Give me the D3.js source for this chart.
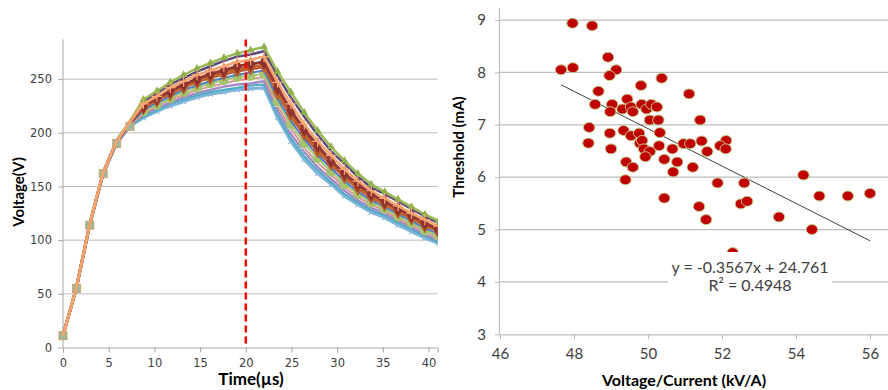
<!DOCTYPE html>
<html>
<head>
<meta charset="utf-8">
<script src="https://cdn.jsdelivr.net/npm/d3@7"></script>
<style>
  body { margin: 0; background: #fff; }
  svg { display: block; }
</style>
</head>
<body>
<svg id="chart" width="888" height="390"></svg>
<script>
// ---- left panel: voltage waveforms ----
const timeUs = [0, 1.47, 2.93, 4.4, 5.87, 7.33, 8.8, 10.27, 11.73, 13.2, 14.67, 16.13, 17.6, 19.07, 20.53,
  22, 23.47, 24.93, 26.4, 27.87, 29.33, 30.8, 32.27, 33.73, 35.2, 36.67, 38.13, 39.6, 41.07];

const vGreen = [11, 56, 115, 163, 193, 211, 231, 239, 247, 254, 260, 265, 270, 274, 277, 280, 257, 238, 219, 202, 187, 174, 162, 152, 145, 138, 131, 124, 118];
const vDarkPurple = [11, 56, 115, 163, 193, 210, 229, 237, 245, 251, 257, 262, 267, 271, 273, 276, 253, 233, 215, 198, 183, 171, 159, 149, 143, 136, 129, 122, 116];
const vLightOrange = [11, 56, 115, 163, 192, 210, 227, 234, 242, 248, 254, 258, 262, 266, 268, 271, 247, 227, 208, 192, 179, 166, 155, 146, 139, 132, 125, 119, 113];
const vDarkRed = [11, 56, 115, 163, 192, 209, 225, 232, 239, 245, 250, 255, 258, 262, 264, 266, 242, 221, 203, 188, 174, 162, 152, 143, 136, 129, 123, 116, 110];
const vBrown = [11, 56, 115, 163, 192, 209, 224, 231, 237, 243, 248, 252, 256, 259, 261, 263, 238, 218, 200, 184, 172, 160, 149, 141, 134, 127, 121, 114, 109];
const vRed = [11, 56, 115, 163, 192, 209, 223, 230, 236, 242, 247, 251, 254, 257, 259, 261, 236, 215, 197, 182, 170, 158, 148, 139, 133, 126, 120, 113, 108];
const vBlue = [11, 56, 115, 162, 191, 208, 221, 228, 234, 240, 244, 248, 251, 254, 256, 258, 232, 211, 194, 179, 167, 155, 145, 137, 131, 124, 118, 111, 106];
const vLightGreen = [11, 55, 114, 162, 191, 208, 220, 226, 232, 238, 242, 246, 249, 252, 253, 255, 229, 208, 190, 176, 164, 152, 143, 135, 129, 122, 116, 109, 104];
const vPink = [11, 55, 114, 162, 191, 207, 218, 225, 231, 235, 240, 243, 246, 249, 250, 252, 225, 204, 186, 172, 161, 149, 140, 133, 127, 120, 114, 108, 102];
const vPurple = [11, 55, 114, 162, 190, 207, 217, 223, 228, 233, 237, 240, 243, 245, 246, 248, 221, 199, 182, 168, 157, 146, 137, 130, 125, 118, 112, 105, 100];
const vAqua = [11, 55, 114, 162, 190, 206, 215, 221, 227, 231, 235, 238, 240, 242, 244, 245, 217, 195, 178, 165, 154, 143, 135, 128, 123, 116, 110, 104, 98];
const vLightBlue = [11, 55, 114, 162, 190, 206, 214, 220, 225, 229, 233, 236, 238, 240, 241, 242, 214, 192, 175, 162, 152, 141, 133, 126, 121, 114, 108, 102, 97];

const leftXTicks = [0, 5, 10, 15, 20, 25, 30, 35, 40];
const leftYTicks = [0, 50, 100, 150, 200, 250];
const markerTime = 20;

// ---- right panel: threshold vs voltage/current ----
const ratioKvA = [47.96, 48.49, 47.65, 47.97, 48.92, 49.14, 48.96, 48.66, 48.57, 49.03, 48.98, 49.44, 49.31, 49.54, 49.59,
  49.81, 49.83, 49.96, 50.09, 50.24, 50.37, 51.11, 50.05, 50.28, 51.41, 48.41, 48.39, 48.97, 49.0, 49.34,
  49.54, 49.76, 49.78, 49.84, 49.89, 50.05, 49.93, 50.32, 50.30, 50.66, 50.96, 51.14, 51.45, 51.60, 52.11,
  51.95, 52.10, 49.41, 49.59, 49.39, 50.44, 50.79, 50.68, 51.21, 51.88, 52.60, 54.20, 50.44, 51.38, 52.51,
  52.68, 51.57, 53.54, 54.43, 54.63, 55.40, 56.0, 52.29];
const thresholdMa = [8.94, 8.89, 8.05, 8.09, 8.29, 8.05, 7.94, 7.64, 7.39, 7.39, 7.25, 7.49, 7.30, 7.34, 7.25,
  7.75, 7.39, 7.30, 7.39, 7.34, 7.89, 7.59, 7.09, 7.09, 7.09, 6.95, 6.65, 6.84, 6.54, 6.89,
  6.79, 6.84, 6.65, 6.70, 6.54, 6.49, 6.39, 6.85, 6.60, 6.54, 6.64, 6.64, 6.69, 6.49, 6.70,
  6.60, 6.54, 6.29, 6.19, 5.95, 6.34, 6.29, 6.10, 6.19, 5.89, 5.89, 6.04, 5.60, 5.44, 5.49,
  5.54, 5.19, 5.24, 5.00, 5.64, 5.64, 5.69, 4.56];
const trendSlope = -0.3567;
const trendIntercept = 24.761;
const trendR2 = 0.4948;
const rightXTicks = [46, 48, 50, 52, 54, 56];
const rightYTicks = [3, 4, 5, 6, 7, 8, 9];

const svg = d3.select('#chart');
const tickFont = '"DejaVu Sans", sans-serif';
const titleFont = 'Lato, "Open Sans", sans-serif';

// =============== left chart ===============
const x1 = d3.scaleLinear().domain([0, 41]).range([63, 437.7]);
const y1 = d3.scaleLinear().domain([0, 287]).range([347.5, 39.4]);

const left = svg.append('g');

left.selectAll('line.grid')
  .data(leftYTicks.filter((d) => d > 0))
  .enter()
  .append('line')
  .attr('x1', x1(0))
  .attr('x2', x1(41))
  .attr('y1', (d) => y1(d))
  .attr('y2', (d) => y1(d))
  .attr('stroke', '#bdbdbd')
  .attr('stroke-width', 1);

const xAxis1 = left.append('g')
  .attr('transform', `translate(0,${y1(0)})`)
  .call(d3.axisBottom(x1).tickValues(leftXTicks).tickSize(5).tickPadding(6));
const yAxis1 = left.append('g')
  .attr('transform', `translate(${x1(0)},0)`)
  .call(d3.axisLeft(y1).tickValues(leftYTicks).tickSize(5).tickPadding(6));
[xAxis1, yAxis1].forEach((a) => {
  a.select('.domain').attr('stroke', '#a6a6a6');
  a.selectAll('.tick line').attr('stroke', '#a6a6a6');
  a.selectAll('.tick text').attr('fill', '#404040').style('font-family', tickFont).style('font-size', '11.5px');
});
yAxis1.select('.domain').attr('d', `M-0,${y1(287)}V${y1(0)}`);

svg.append('defs').append('clipPath').attr('id', 'leftClip')
  .append('rect').attr('x', 0).attr('y', 0).attr('width', x1(41)).attr('height', 390);

const plot1 = left.append('g').attr('clip-path', 'url(#leftClip)');

const series = [
  { values: vLightBlue, color: '#7cb4da', width: 3, marker: 'times', size: 18, mfill: 'none', mstroke: '#8ab6de' },
  { values: vAqua, color: '#4bacc6', width: 2, marker: null },
  { values: vPurple, color: '#a08cc2', width: 2.5, marker: null },
  { values: vPink, color: '#d99694', width: 2, marker: 'dash', size: 30, mfill: '#ffffff', mstroke: '#ffffff' },
  { values: vLightGreen, color: '#a9c97a', width: 2, marker: 'circle', size: 60, mfill: '#a4c46f', mstroke: '#a4c46f' },
  { values: vBlue, color: '#4f81bd', width: 2, marker: null },
  { values: vRed, color: '#c0504d', width: 2, marker: 'square', size: 20, mfill: '#d47a6f', mstroke: '#d47a6f' },
  { values: vBrown, color: '#c0662a', width: 3, marker: 'diamond', size: 60, mfill: '#b8622a', mstroke: '#b8622a' },
  { values: vDarkRed, color: '#953735', width: 3, marker: 'diamond', size: 50, mfill: '#8f3230', mstroke: '#8f3230' },
  { values: vDarkPurple, color: '#5f497a', width: 2.5, marker: null },
  { values: vGreen, color: '#9bbb59', width: 2.5, marker: 'triangle', size: 14, mfill: '#8fb04a', mstroke: '#8fb04a' },
  { values: vLightOrange, color: '#f5a46e', width: 2.5, marker: 'plus', size: 40, mfill: 'none', mstroke: '#f7a874' },
];

const symbolTypes = {
  times: d3.symbolTimes || d3.symbolCross,
  plus: d3.symbolPlus || d3.symbolCross,
  circle: d3.symbolCircle,
  square: d3.symbolSquare,
  diamond: d3.symbolDiamond,
  triangle: d3.symbolTriangle,
};

const line1 = d3.line()
  .x((d, i) => x1(timeUs[i]))
  .y((d) => y1(d));

// markers are hidden on the shared rising edge, where only squares show
const firstMarker = 6;

series.forEach((s) => {
  plot1.append('path')
    .datum(s.values)
    .attr('d', line1)
    .attr('fill', 'none')
    .attr('stroke', s.color)
    .attr('stroke-width', s.width)
    .attr('stroke-linejoin', 'round');

  if (!s.marker) return;
  const g = plot1.append('g');
  const pts = s.values.map((v, i) => ({ t: timeUs[i], v })).slice(firstMarker);
  if (s.marker === 'dash') {
    g.selectAll('line')
      .data(pts)
      .enter()
      .append('line')
      .attr('x1', (d) => x1(d.t) - 3)
      .attr('x2', (d) => x1(d.t) + 3)
      .attr('y1', (d) => y1(d.v))
      .attr('y2', (d) => y1(d.v))
      .attr('stroke', s.mstroke)
      .attr('stroke-width', 1.5);
    return;
  }
  g.selectAll('path')
    .data(pts)
    .enter()
    .append('path')
    .attr('transform', (d) => `translate(${x1(d.t)},${y1(d.v)})`)
    .attr('d', d3.symbol().type(symbolTypes[s.marker]).size(s.size))
    .attr('fill', s.mfill)
    .attr('stroke', s.mstroke)
    .attr('stroke-width', 1.2);
});

// rise markers (mixed colour squares, as in the original)
plot1.selectAll('rect.rise')
  .data(vAqua.slice(0, firstMarker))
  .enter()
  .append('rect')
  .attr('x', (d, i) => x1(timeUs[i]) - 4)
  .attr('y', (d) => y1(d) - 4)
  .attr('width', 8)
  .attr('height', 8)
  .attr('fill', '#9fb79a')
  .attr('stroke', '#c9a56e');

plot1.append('path')
  .datum(vLightOrange.slice(0, firstMarker + 1))
  .attr('d', line1)
  .attr('fill', 'none')
  .attr('stroke', '#f5a46e')
  .attr('stroke-width', 2.5);

left.append('line')
  .attr('x1', x1(markerTime))
  .attr('x2', x1(markerTime))
  .attr('y1', y1(287))
  .attr('y2', y1(0))
  .attr('stroke', '#ff0000')
  .attr('stroke-width', 2.5)
  .attr('stroke-dasharray', '7,4');

left.append('text')
  .attr('transform', `translate(24,192) rotate(-90)`)
  .attr('text-anchor', 'middle')
  .style('font-family', titleFont)
  .style('font-weight', 'bold')
  .style('font-size', '15px')
  .attr('fill', '#000')
  .text('Voltage(V)');

left.append('text')
  .attr('x', 251)
  .attr('y', 385)
  .attr('text-anchor', 'middle')
  .style('font-family', titleFont)
  .style('font-weight', 'bold')
  .style('font-size', '17px')
  .attr('fill', '#000')
  .text('Time(µs)');

// =============== right chart ===============
const x2 = d3.scaleLinear().domain([46, 56.5]).range([500, 888.5]);
const y2 = d3.scaleLinear().domain([3, 9.23]).range([334.3, 8]);

const right = svg.append('g');

right.selectAll('line.grid')
  .data(rightYTicks.filter((d) => d > 3))
  .enter()
  .append('line')
  .attr('x1', x2(46))
  .attr('x2', 888)
  .attr('y1', (d) => y2(d))
  .attr('y2', (d) => y2(d))
  .attr('stroke', '#bdbdbd')
  .attr('stroke-width', 1.2);

const xAxis2 = right.append('g')
  .attr('transform', `translate(0,${y2(3)})`)
  .call(d3.axisBottom(x2).tickValues(rightXTicks).tickFormat(d3.format('d')).tickSize(5).tickPadding(9));
const yAxis2 = right.append('g')
  .attr('transform', `translate(${x2(46)},0)`)
  .call(d3.axisLeft(y2).tickValues(rightYTicks).tickFormat(d3.format('d')).tickSize(5).tickPadding(9));
[xAxis2, yAxis2].forEach((a) => {
  a.select('.domain').attr('stroke', '#bdbdbd').attr('stroke-width', 1.2);
  a.selectAll('.tick line').attr('stroke', '#bdbdbd');
  a.selectAll('.tick text').attr('fill', '#404040').style('font-family', titleFont).style('font-size', '15px');
});
xAxis2.select('.domain').attr('d', `M${x2(46)},0.5H888`);
yAxis2.select('.domain').attr('d', `M-0.5,${y2(9.23)}V${y2(3)}`);

const trendX0 = d3.min(ratioKvA);
const trendX1 = d3.max(ratioKvA);

right.append('line')
  .attr('x1', x2(trendX0))
  .attr('x2', x2(trendX1))
  .attr('y1', y2(trendSlope * trendX0 + trendIntercept))
  .attr('y2', y2(trendSlope * trendX1 + trendIntercept))
  .attr('stroke', '#404040')
  .attr('stroke-width', 1);

right.selectAll('ellipse.pt')
  .data(ratioKvA)
  .enter()
  .append('ellipse')
  .attr('cx', (d) => x2(d))
  .attr('cy', (d, i) => y2(thresholdMa[i]))
  .attr('rx', 5.7)
  .attr('ry', 5)
  .attr('fill', '#c00000')
  .attr('stroke', '#c3c88a')
  .attr('stroke-width', 1);

// equation label box
right.append('rect')
  .attr('x', 668)
  .attr('y', 252)
  .attr('width', 164)
  .attr('height', 42)
  .attr('fill', '#fff');

right.append('text')
  .attr('x', 750)
  .attr('y', 273)
  .attr('text-anchor', 'middle')
  .style('font-family', titleFont)
  .style('font-size', '16px')
  .attr('fill', '#404040')
  .text(`y = ${trendSlope}x + ${trendIntercept}`);

right.append('text')
  .attr('x', 750)
  .attr('y', 291)
  .attr('text-anchor', 'middle')
  .style('font-family', titleFont)
  .style('font-size', '16px')
  .attr('fill', '#404040')
  .text(`R² = ${trendR2}`);

right.append('text')
  .attr('transform', `translate(464,147) rotate(-90)`)
  .attr('text-anchor', 'middle')
  .style('font-family', titleFont)
  .style('font-weight', 'bold')
  .style('font-size', '15px')
  .attr('fill', '#000')
  .text('Threshold (mA)');

right.append('text')
  .attr('x', 684)
  .attr('y', 386)
  .attr('text-anchor', 'middle')
  .style('font-family', titleFont)
  .style('font-weight', 'bold')
  .style('font-size', '16px')
  .attr('fill', '#000')
  .text('Voltage/Current (kV/A)');
</script>
</body>
</html>
